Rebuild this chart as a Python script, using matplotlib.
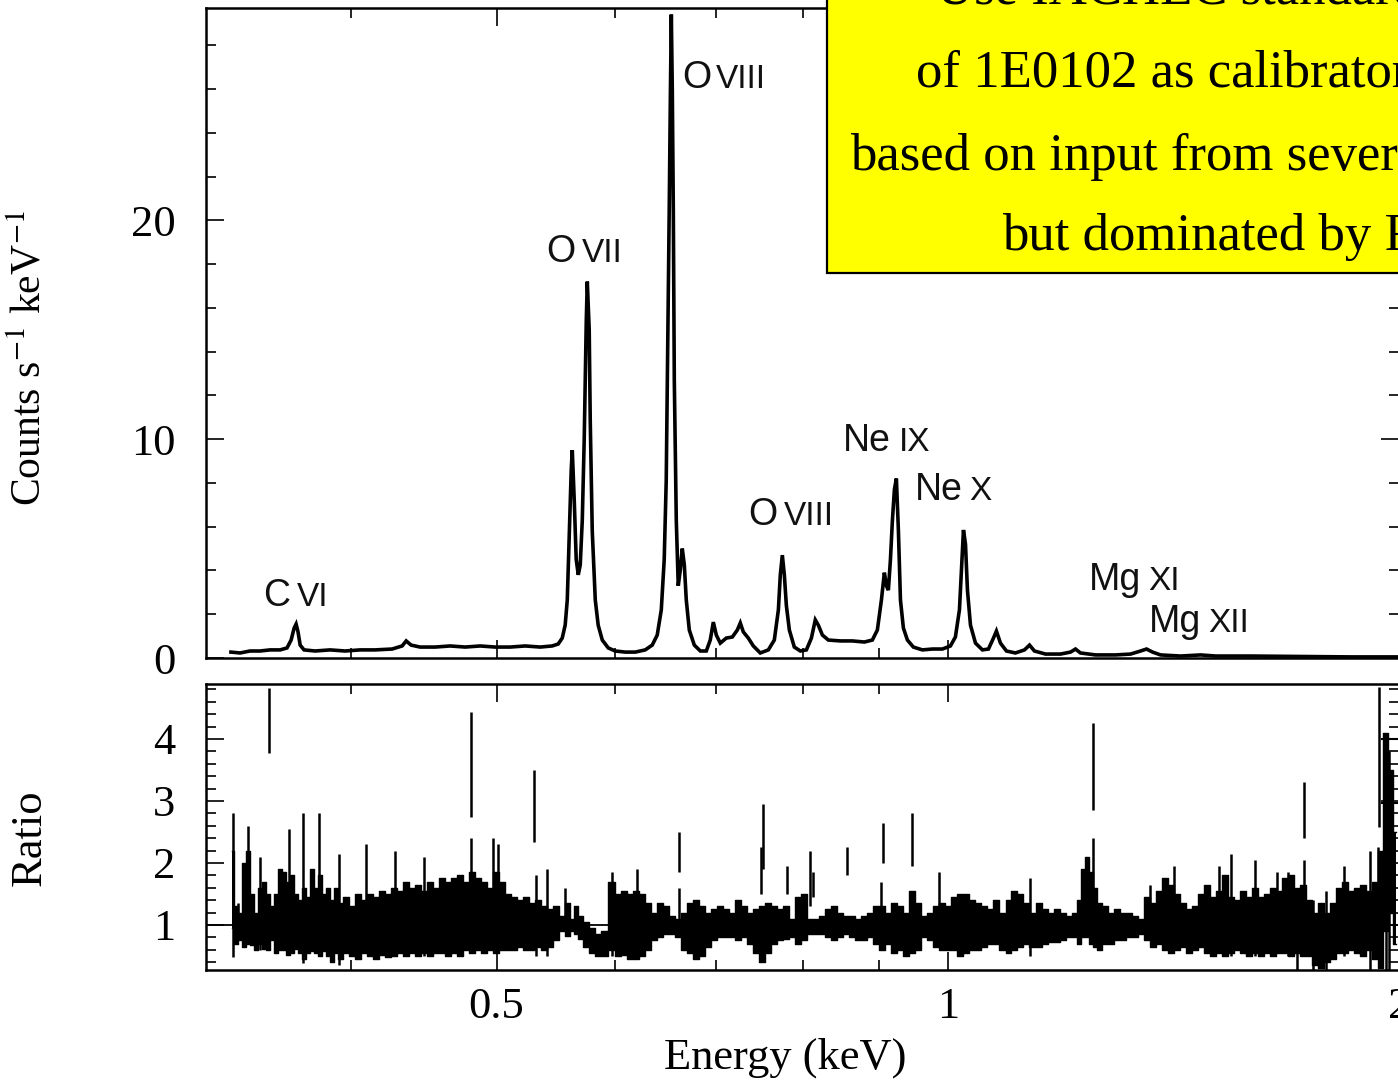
import numpy as np
import matplotlib
matplotlib.use("Agg")
import matplotlib.pyplot as plt
from matplotlib.ticker import FixedLocator, FixedFormatter, NullFormatter
from matplotlib.patches import Rectangle

# ---------------- data ----------------
spec_energy = [0.3325, 0.3372, 0.3424, 0.3477, 0.3531, 0.3586, 0.3624, 0.3647, 0.3664, 0.3675,
               0.3686, 0.3698, 0.3720, 0.3784, 0.3872, 0.3962, 0.4054, 0.4149, 0.4259, 0.4325,
               0.4352, 0.4385, 0.4446, 0.4550, 0.4656, 0.4765, 0.4876, 0.4990, 0.5106, 0.5225,
               0.5347, 0.5446, 0.5497, 0.5531, 0.5556, 0.5574, 0.5590, 0.5608, 0.5617, 0.5634,
               0.5651, 0.5669, 0.5686, 0.5704, 0.5721, 0.5739, 0.5748, 0.5765, 0.5774, 0.5792,
               0.5819, 0.5845, 0.5882, 0.5936, 0.6000, 0.6093, 0.6188, 0.6283, 0.6351, 0.6400,
               0.6440, 0.6469, 0.6489, 0.6509, 0.6519, 0.6530, 0.6540, 0.6550, 0.6560, 0.6570,
               0.6590, 0.6610, 0.6630, 0.6651, 0.6672, 0.6692, 0.6723, 0.6775, 0.6838, 0.6901,
               0.6943, 0.6976, 0.7008, 0.7051, 0.7116, 0.7183, 0.7238, 0.7271, 0.7305, 0.7361,
               0.7418, 0.7498, 0.7591, 0.7661, 0.7709, 0.7732, 0.7756, 0.7780, 0.7804, 0.7840,
               0.7900, 0.7974, 0.8048, 0.8110, 0.8159, 0.8197, 0.8248, 0.8324, 0.8479, 0.8637,
               0.8797, 0.8906, 0.8975, 0.9031, 0.9072, 0.9101, 0.9128, 0.9157, 0.9185, 0.9213,
               0.9241, 0.9270, 0.9299, 0.9341, 0.9399, 0.9485, 0.9618, 0.9767, 0.9918, 1.0041,
               1.0118, 1.0181, 1.0212, 1.0244, 1.0276, 1.0307, 1.0355, 1.0435, 1.0547, 1.0645,
               1.0727, 1.0776, 1.0843, 1.0943, 1.1095, 1.1251, 1.1338, 1.1424, 1.1620, 1.1891,
               1.2075, 1.2168, 1.2261, 1.2547, 1.2939, 1.3242, 1.3447, 1.3571, 1.3697, 1.3867,
               1.4299, 1.4746, 1.5089, 1.5922, 1.7195, 1.8568, 1.9991]
spec_counts = [0.27, 0.23, 0.32, 0.32, 0.37, 0.37, 0.46, 0.82, 1.37, 1.55,
               1.19, 0.59, 0.37, 0.32, 0.37, 0.32, 0.37, 0.37, 0.41, 0.55,
               0.78, 0.59, 0.50, 0.50, 0.55, 0.50, 0.55, 0.50, 0.50, 0.55,
               0.50, 0.55, 0.64, 0.91, 1.50, 2.65, 5.40, 8.60, 9.50, 7.20,
               4.50, 3.80, 4.25, 6.30, 10.0, 15.4, 17.2, 15.0, 10.9, 5.80,
               2.65, 1.50, 0.82, 0.46, 0.32, 0.27, 0.27, 0.37, 0.59, 1.05,
               2.20, 4.50, 8.10, 16.3, 20.5, 25.5, 29.4, 25.9, 20.5, 12.7,
               6.30, 3.30, 4.00, 5.00, 4.25, 2.65, 1.28, 0.59, 0.32, 0.32,
               0.82, 1.64, 1.05, 0.68, 0.91, 0.96, 1.28, 1.60, 1.19, 0.91,
               0.55, 0.23, 0.37, 0.82, 2.20, 3.80, 4.70, 3.80, 2.40, 1.28,
               0.50, 0.32, 0.37, 0.91, 1.74, 1.50, 1.05, 0.82, 0.78, 0.78,
               0.73, 0.82, 1.28, 2.65, 3.90, 3.30, 3.10, 4.50, 6.30, 7.70,
               8.20, 5.80, 2.65, 1.37, 0.82, 0.50, 0.37, 0.41, 0.41, 0.55,
               0.96, 2.20, 4.00, 5.85, 5.20, 3.10, 1.50, 0.68, 0.37, 0.41,
               0.91, 1.23, 0.68, 0.32, 0.23, 0.37, 0.59, 0.32, 0.18, 0.18,
               0.27, 0.41, 0.23, 0.14, 0.14, 0.18, 0.32, 0.41, 0.27, 0.14,
               0.09, 0.14, 0.09, 0.09, 0.07, 0.05, 0.05]

ratio_energy = [0.3330, 0.3351, 0.3372, 0.3392, 0.3413, 0.3434, 0.3456, 0.3477, 0.3498, 0.3520,
                0.3542, 0.3563, 0.3585, 0.3608, 0.3630, 0.3652, 0.3675, 0.3697, 0.3720, 0.3743,
                0.3766, 0.3789, 0.3813, 0.3836, 0.3860, 0.3884, 0.3908, 0.3932, 0.3968, 0.4005,
                0.4042, 0.4080, 0.4117, 0.4156, 0.4194, 0.4233, 0.4272, 0.4312, 0.4352, 0.4392,
                0.4433, 0.4474, 0.4515, 0.4557, 0.4599, 0.4642, 0.4685, 0.4728, 0.4772, 0.4816,
                0.4861, 0.4906, 0.4951, 0.4997, 0.5044, 0.5090, 0.5137, 0.5185, 0.5233, 0.5282,
                0.5330, 0.5380, 0.5430, 0.5480, 0.5531, 0.5582, 0.5616, 0.5651, 0.5686, 0.5739,
                0.5792, 0.5845, 0.5900, 0.5972, 0.6028, 0.6084, 0.6140, 0.6197, 0.6254, 0.6312,
                0.6371, 0.6430, 0.6489, 0.6550, 0.6610, 0.6671, 0.6733, 0.6796, 0.6859, 0.6922,
                0.6986, 0.7051, 0.7116, 0.7182, 0.7249, 0.7316, 0.7384, 0.7452, 0.7521, 0.7591,
                0.7661, 0.7732, 0.7804, 0.7876, 0.7949, 0.8023, 0.8097, 0.8172, 0.8248, 0.8324,
                0.8401, 0.8479, 0.8558, 0.8637, 0.8717, 0.8798, 0.8879, 0.8962, 0.9045, 0.9128,
                0.9213, 0.9298, 0.9385, 0.9471, 0.9559, 0.9648, 0.9737, 0.9827, 0.9918, 1.0010,
                1.0103, 1.0197, 1.0291, 1.0387, 1.0483, 1.0580, 1.0678, 1.0777, 1.0877, 1.0978,
                1.1079, 1.1182, 1.1285, 1.1390, 1.1496, 1.1602, 1.1710, 1.1818, 1.1928, 1.2038,
                1.2150, 1.2225, 1.2300, 1.2376, 1.2452, 1.2529, 1.2606, 1.2723, 1.2841, 1.2960,
                1.3080, 1.3201, 1.3323, 1.3447, 1.3571, 1.3697, 1.3824, 1.3952, 1.4081, 1.4212,
                1.4343, 1.4476, 1.4610, 1.4746, 1.4882, 1.5020, 1.5159, 1.5300, 1.5441, 1.5584,
                1.5729, 1.5874, 1.6022, 1.6170, 1.6320, 1.6471, 1.6624, 1.6778, 1.6933, 1.7090,
                1.7248, 1.7408, 1.7569, 1.7732, 1.7896, 1.8062, 1.8229, 1.8398, 1.8569, 1.8741,
                1.8914, 1.9089, 1.9266, 1.9445, 1.9595, 1.9746, 1.9898]
ratio_high = [2.20, 1.30, 1.20, 2.00, 2.20, 1.50, 1.20, 1.60, 1.70, 1.50,
              1.30, 1.50, 1.90, 1.85, 1.70, 1.80, 1.50, 1.40, 1.60, 1.45,
              1.90, 1.60, 1.80, 1.50, 1.60, 1.40, 1.60, 1.35, 1.45, 1.30,
              1.50, 1.40, 1.50, 1.45, 1.55, 1.50, 1.60, 1.55, 1.70, 1.60,
              1.65, 1.55, 1.70, 1.60, 1.75, 1.70, 1.75, 1.80, 1.70, 1.85,
              1.75, 1.70, 1.60, 1.85, 1.70, 1.50, 1.45, 1.40, 1.45, 1.35,
              1.40, 1.30, 1.25, 1.30, 1.15, 1.35, 1.10, 1.30, 1.15, 1.05,
              0.95, 0.85, 0.90, 1.70, 1.50, 1.55, 1.50, 1.55, 1.50, 1.35,
              1.20, 1.35, 1.30, 1.15, 1.10, 1.20, 1.35, 1.40, 1.30, 1.20,
              1.25, 1.30, 1.25, 1.20, 1.40, 1.30, 1.20, 1.25, 1.30, 1.35,
              1.30, 1.25, 1.30, 1.10, 1.45, 1.50, 1.10, 1.10, 1.15, 1.25,
              1.30, 1.20, 1.15, 1.15, 1.10, 1.15, 1.20, 1.30, 1.30, 1.20,
              1.35, 1.30, 1.20, 1.55, 1.35, 1.15, 1.20, 1.30, 1.35, 1.30,
              1.45, 1.50, 1.50, 1.40, 1.35, 1.30, 1.25, 1.40, 1.20, 1.40,
              1.55, 1.50, 1.35, 1.20, 1.35, 1.25, 1.20, 1.25, 1.20, 1.15,
              1.20, 1.40, 1.90, 2.10, 1.85, 1.60, 1.35, 1.30, 1.20, 1.25,
              1.20, 1.20, 1.15, 1.10, 1.45, 1.35, 1.55, 1.75, 1.65, 1.50,
              1.35, 1.25, 1.30, 1.50, 1.65, 1.45, 1.55, 1.80, 1.45, 1.40,
              1.55, 1.45, 1.60, 1.45, 1.50, 1.60, 1.55, 1.75, 1.80, 1.60,
              1.65, 1.40, 1.20, 1.35, 1.20, 1.35, 1.60, 1.70, 1.55, 1.60,
              1.65, 1.55, 1.70, 2.20, 4.10, 3.50, 2.50]
ratio_low = [0.95, 0.70, 0.75, 0.65, 0.70, 0.68, 0.60, 0.70, 0.62, 0.60,
             0.75, 0.55, 0.60, 0.60, 0.52, 0.55, 0.62, 0.55, 0.45, 0.55,
             0.58, 0.55, 0.50, 0.58, 0.50, 0.40, 0.55, 0.45, 0.55, 0.50,
             0.45, 0.55, 0.50, 0.45, 0.52, 0.48, 0.50, 0.55, 0.50, 0.55,
             0.50, 0.55, 0.50, 0.55, 0.55, 0.50, 0.55, 0.50, 0.60, 0.55,
             0.60, 0.55, 0.60, 0.55, 0.60, 0.60, 0.60, 0.65, 0.60, 0.60,
             0.65, 0.60, 0.65, 0.75, 0.90, 0.82, 0.90, 0.85, 0.78, 0.65,
             0.55, 0.50, 0.50, 0.60, 0.50, 0.52, 0.45, 0.45, 0.50, 0.60,
             0.75, 0.80, 0.85, 0.85, 0.80, 0.60, 0.55, 0.45, 0.50, 0.65,
             0.75, 0.80, 0.80, 0.80, 0.75, 0.80, 0.70, 0.55, 0.40, 0.55,
             0.70, 0.75, 0.78, 0.80, 0.70, 0.75, 0.85, 0.85, 0.85, 0.80,
             0.75, 0.80, 0.85, 0.80, 0.75, 0.75, 0.80, 0.70, 0.60, 0.70,
             0.55, 0.60, 0.50, 0.55, 0.60, 0.80, 0.75, 0.65, 0.60, 0.60,
             0.60, 0.50, 0.55, 0.60, 0.60, 0.65, 0.70, 0.70, 0.60, 0.55,
             0.60, 0.65, 0.70, 0.65, 0.65, 0.70, 0.72, 0.72, 0.75, 0.80,
             0.80, 0.70, 0.80, 0.80, 0.70, 0.65, 0.60, 0.70, 0.70, 0.75,
             0.75, 0.80, 0.80, 0.85, 0.75, 0.65, 0.70, 0.60, 0.55, 0.60,
             0.65, 0.55, 0.60, 0.65, 0.55, 0.50, 0.55, 0.50, 0.55, 0.60,
             0.55, 0.50, 0.55, 0.50, 0.55, 0.50, 0.55, 0.55, 0.50, 0.55,
             0.50, 0.50, 0.35, 0.30, 0.40, 0.45, 0.55, 0.55, 0.60, 0.55,
             0.50, 0.60, 0.45, 0.30, 0.90, 1.20, 0.70]

spike_energy = [0.3336, 0.3361, 0.3413, 0.3477, 0.3525, 0.3635, 0.3714, 0.3807, 0.3926, 0.4092,
                0.4279, 0.4474, 0.4809, 0.4809, 0.4974, 0.5013, 0.5298, 0.5314, 0.5405, 0.5556,
                0.5972, 0.6206, 0.6620, 0.6620, 0.7510, 0.7533, 0.7816, 0.8097, 0.8135, 0.8571,
                0.9031, 0.9059, 0.9471, 0.9873, 1.1338, 1.2490, 1.2490, 1.3634, 1.4146, 1.5159,
                1.5441, 1.6022, 1.6573, 1.6855, 1.7090, 1.7275, 1.7275, 1.7515, 1.7869, 1.8370,
                1.9119, 1.9355, 1.9385, 1.9595, 1.9685]
spike_low = [0.48, 0.75, 0.75, 0.60, 3.77, 0.60, 0.38, 0.50, 0.35, 0.60,
             0.55, 0.50, 2.74, 0.70, 0.60, 0.60, 2.34, 0.50, 0.50, 0.95,
             0.50, 0.50, 1.85, 1.10, 1.50, 1.90, 1.50, 1.30, 1.45, 1.80,
             1.00, 2.00, 1.95, 1.10, 0.50, 2.85, 0.80, 0.75, 0.70, 0.55,
             0.50, 0.50, 0.55, 0.50, 0.27, 2.40, 0.50, 0.27, 0.27, 0.50,
             0.27, 0.55, 2.58, 0.27, 0.27]
spike_high = [2.80, 1.35, 2.60, 2.10, 4.82, 2.55, 2.80, 2.80, 2.15, 2.30,
              2.20, 2.10, 4.44, 2.40, 2.40, 2.30, 3.50, 1.80, 1.90, 1.60,
              1.85, 1.90, 2.50, 1.60, 2.25, 2.95, 1.95, 2.20, 1.85, 2.25,
              1.70, 2.65, 2.80, 1.85, 1.75, 4.26, 2.40, 1.65, 1.95, 1.95,
              2.15, 2.05, 1.85, 1.85, 1.50, 3.30, 2.05, 1.40, 1.55, 1.95,
              2.20, 2.25, 4.84, 4.10, 3.80]

hbar_ratio = [4.0, 2.97]
hbar_e_lo = [1.945, 1.945]
hbar_e_hi = [2.0, 2.0]

ion_elements = ["C", "O", "O", "O", "Ne", "Ne", "Mg", "Mg"]
ion_stages = ["VI", "VII", "VIII", "VIII", "IX", "X", "XI", "XII"]

box_lines = ["Use IACHEC standard model",
             "of 1E0102 as calibrator,",
             "based on input from several instruments,",
             "but dominated by RGS"]

x_major = [0.5, 1, 2]
x_major_labels = ["0.5", "1", "2"]
x_minor = [0.4, 0.6, 0.7, 0.8, 0.9]

# ---------------- figure ----------------
plt.rcParams["font.family"] = ["Liberation Serif", "DejaVu Serif"]
plt.rcParams["mathtext.fontset"] = "stix"

W, H = 1398, 1081
fig = plt.figure(figsize=(W / 100, H / 100), dpi=100)


def fx(px):
    return px / W


def fy(py):
    return 1 - py / H


ax1 = fig.add_axes([fx(206), fy(658), fx(1399) - fx(206), fy(8) - fy(658)])
ax2 = fig.add_axes([fx(206), fy(970), fx(1399) - fx(206), fy(684) - fy(970)])

ax1.plot(spec_energy, spec_counts, color="black", lw=2.6, solid_joinstyle="miter")

ax2.fill_between(ratio_energy, ratio_low, ratio_high, step="mid", color="black", lw=0)
ax2.step(ratio_energy, ratio_high, where="mid", color="black", lw=1.0)
ax2.step(ratio_energy, ratio_low, where="mid", color="black", lw=1.0)
ax2.vlines(spike_energy, spike_low, spike_high, color="black", lw=1.8)
ax2.hlines(hbar_ratio, hbar_e_lo, hbar_e_hi, color="black", lw=1.5)
ax2.axhline(1.0, color="black", lw=1.3)

for ax in (ax1, ax2):
    ax.set_xscale("log")
    ax.set_xlim(0.32, 2.0)
    ax.xaxis.set_major_locator(FixedLocator(x_major))
    ax.xaxis.set_minor_locator(FixedLocator(x_minor))
    ax.xaxis.set_minor_formatter(NullFormatter())
    ax.tick_params(which="both", direction="in", top=True, right=True,
                   width=1.2, labelsize=32)
    ax.tick_params(which="major", length=13)
    ax.tick_params(which="minor", length=7)
    ax.tick_params(axis="y", pad=22)
    ax.tick_params(axis="x", pad=12)
    for s in ax.spines.values():
        s.set_linewidth(1.8)

ax1.xaxis.set_major_formatter(NullFormatter())
ax2.xaxis.set_major_formatter(FixedFormatter(x_major_labels))

ax1.set_ylim(0, 29.7)
ax1.yaxis.set_major_locator(FixedLocator([0, 10, 20]))
ax1.yaxis.set_minor_locator(FixedLocator(list(range(0, 30, 2))))

ax2.set_ylim(0.274, 4.887)
ax2.yaxis.set_major_locator(FixedLocator([1, 2, 3, 4]))
ax2.yaxis.set_minor_locator(FixedLocator([round(0.4 + 0.2 * i, 1) for i in range(23)]))

# axis titles
fig.text(fx(785), fy(1058), "Energy (keV)", ha="center", va="center", fontsize=32)
fig.text(fx(30), fy(358), r"Counts s$^{-1}$ keV$^{-1}$", ha="center", va="center",
         rotation=90, fontsize=30)
fig.text(fx(30), fy(838), "Ratio", ha="center", va="center", rotation=90, fontsize=32)

# line labels (element + ionisation stage)
elem_pos = [(263, 606), (546, 262), (682, 88), (748, 525),
            (843, 451), (915, 500), (1089, 590), (1149, 632)]
stage_pos = [(297, 606), (582, 262), (716, 88), (784, 525),
             (899, 451), (969, 500), (1148, 590), (1208, 632)]
for el, st, pe, ps in zip(ion_elements, ion_stages, elem_pos, stage_pos):
    fig.text(fx(pe[0]), fy(pe[1]), el, ha="left", va="baseline", fontsize=27,
             family=["Liberation Sans", "DejaVu Sans"], color="#111111")
    fig.text(fx(ps[0]), fy(ps[1]), st, ha="left", va="baseline", fontsize=24,
             family=["Liberation Sans", "DejaVu Sans"], color="#111111")

# yellow annotation box (extends beyond the figure edge)
rect = Rectangle((fx(827), fy(273)), 0.6, 0.4, transform=fig.transFigure,
                 facecolor="#FFFF00", edgecolor="black", lw=1.6, zorder=5)
fig.add_artist(rect)
box_pos = [(936, 4), (916, 86), (850, 170), (1002, 250)]
for line, (px, py) in zip(box_lines, box_pos):
    fig.text(fx(px), fy(py), line, ha="left", va="baseline", fontsize=38,
             family=["Liberation Serif"], zorder=6)

fig.savefig("out.png", dpi=100)
